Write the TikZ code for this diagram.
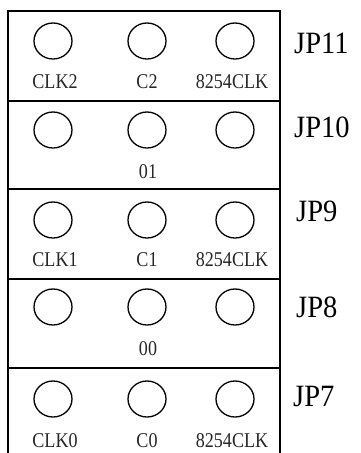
\documentclass[tikz,border=0pt]{standalone}
\usepackage{fontspec}
\setmainfont{Liberation Serif}
\newfontfamily\pinfont[FakeStretch=0.86]{Liberation Serif}
\newfontfamily\jpfont[FakeStretch=0.92]{Liberation Serif}
\usetikzlibrary{shapes.geometric}
\tikzset{
	hole/.style={draw, ellipse, minimum width=38pt, minimum height=36pt, inner sep=0pt, line width=1.3pt},
	pintext/.style={font=\pinfont\fontsize{21}{21}\selectfont, inner sep=0pt, text=black!85},
	jptext/.style={font=\jpfont\fontsize{31}{31}\selectfont, anchor=west, inner sep=0pt},
	frame/.style={line width=1.5pt},
}
\begin{document}
\begin{tikzpicture}[x=1pt,y=-1pt]
		%%%%% START %%%%%
		\useasboundingbox (0,0) rectangle (360,453);
		
		% outer frame, open at the bottom
		\coordinate (tl) at (8,11);
		\coordinate (tr) at (280,11);
		\coordinate (bl) at (8,453);
		\coordinate (br) at (280,453);
		\draw[frame] (bl) -- (tl) -- (tr) -- (br);
		
		% dividers
		\foreach \yy/\nm in {101/a, 189/b, 279/c, 368/d}{
			\coordinate (l\nm) at (8,\yy);
			\coordinate (r\nm) at (280,\yy);
			\draw[frame] (l\nm) -- (r\nm);
		}
		
		% JP11
		\node[hole] (h11a) at (53,41) {};
		\node[hole] (h11b) at (147,41) {};
		\node[hole] (h11c) at (235,41) {};
		\node[pintext] (t11a) at (55,82) {CLK2};
		\node[pintext] (t11b) at (147,82) {C2};
		\node[pintext] (t11c) at (232,82) {8254CLK};
		\node[jptext] (jp11) at (294,43) {JP11};
		
		% JP10
		\node[hole] (h10a) at (53,130) {};
		\node[hole] (h10b) at (147,130) {};
		\node[hole] (h10c) at (235,130) {};
		\node[pintext] (t10b) at (148,172) {01};
		\node[jptext] (jp10) at (294,127) {JP10};
		
		% JP9
		\node[hole] (h9a) at (53,220) {};
		\node[hole] (h9b) at (147,220) {};
		\node[hole] (h9c) at (235,220) {};
		\node[pintext] (t9a) at (55,260) {CLK1};
		\node[pintext] (t9b) at (147,260) {C1};
		\node[pintext] (t9c) at (232,260) {8254CLK};
		\node[jptext] (jp9) at (296,211) {JP9};
		
		% JP8
		\node[hole] (h8a) at (53,307) {};
		\node[hole] (h8b) at (147,307) {};
		\node[hole] (h8c) at (235,307) {};
		\node[pintext] (t8b) at (148,349) {00};
		\node[jptext] (jp8) at (296,307) {JP8};
		
		% JP7
		\node[hole] (h7a) at (53,399) {};
		\node[hole] (h7b) at (147,399) {};
		\node[hole] (h7c) at (235,399) {};
		\node[pintext] (t7a) at (55,441) {CLK0};
		\node[pintext] (t7b) at (147,441) {C0};
		\node[pintext] (t7c) at (232,441) {8254CLK};
		\node[jptext] (jp7) at (293,396) {JP7};
		
		%%%%% END %%%%%
\end{tikzpicture}
\end{document}
